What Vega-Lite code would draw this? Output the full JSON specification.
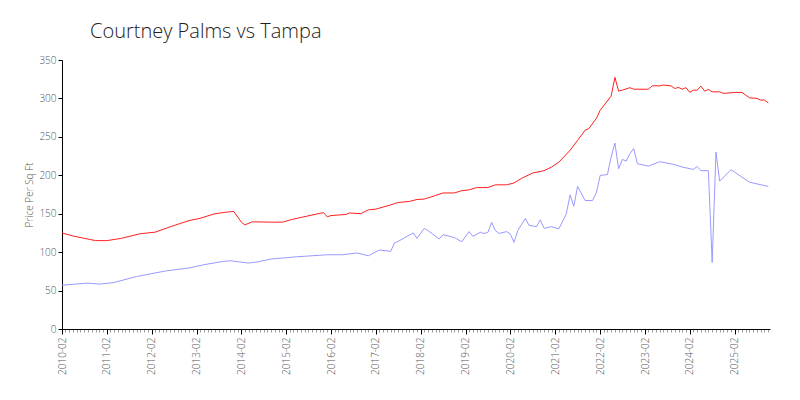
{
  "$schema": "https://vega.github.io/schema/vega-lite/v6.json",
  "width": 708,
  "height": 269,
  "autosize": {"type": "none"},
  "padding": {"left": 62, "top": 60, "right": 30, "bottom": 71},
  "background": "white",
  "title": {
    "text": "Courtney Palms vs Tampa",
    "anchor": "start",
    "frame": "group",
    "dx": 28,
    "offset": 13,
    "font": "Open Sans",
    "fontWeight": 300,
    "fontSize": 20,
    "color": "#222222"
  },
  "config": {
    "view": {"stroke": null},
    "axis": {
      "labelFont": "Open Sans",
      "labelFontWeight": 300,
      "titleFont": "Open Sans",
      "titleFontWeight": 300,
      "labelColor": "#555555",
      "titleColor": "#555555",
      "domainColor": "#000000",
      "tickColor": "#000000",
      "grid": false
    }
  },
  "data": {
    "values": [
      {"series": "Tampa", "date": "2010-02-01", "value": 125},
      {"series": "Tampa", "date": "2010-05-01", "value": 121},
      {"series": "Tampa", "date": "2010-11-01", "value": 115},
      {"series": "Tampa", "date": "2011-02-01", "value": 115},
      {"series": "Tampa", "date": "2011-06-01", "value": 118},
      {"series": "Tampa", "date": "2011-11-01", "value": 124},
      {"series": "Tampa", "date": "2012-03-01", "value": 126},
      {"series": "Tampa", "date": "2012-07-01", "value": 133},
      {"series": "Tampa", "date": "2012-12-01", "value": 141},
      {"series": "Tampa", "date": "2013-03-01", "value": 144},
      {"series": "Tampa", "date": "2013-07-01", "value": 150},
      {"series": "Tampa", "date": "2013-10-01", "value": 152},
      {"series": "Tampa", "date": "2013-12-01", "value": 153},
      {"series": "Tampa", "date": "2014-02-01", "value": 139},
      {"series": "Tampa", "date": "2014-03-01", "value": 135.5},
      {"series": "Tampa", "date": "2014-05-01", "value": 139.5},
      {"series": "Tampa", "date": "2014-10-01", "value": 139},
      {"series": "Tampa", "date": "2015-01-01", "value": 139},
      {"series": "Tampa", "date": "2015-04-01", "value": 143},
      {"series": "Tampa", "date": "2015-12-01", "value": 151.5},
      {"series": "Tampa", "date": "2016-01-01", "value": 146},
      {"series": "Tampa", "date": "2016-02-01", "value": 147.6},
      {"series": "Tampa", "date": "2016-06-01", "value": 149},
      {"series": "Tampa", "date": "2016-07-01", "value": 151},
      {"series": "Tampa", "date": "2016-10-01", "value": 150},
      {"series": "Tampa", "date": "2016-12-01", "value": 155},
      {"series": "Tampa", "date": "2017-02-01", "value": 156},
      {"series": "Tampa", "date": "2017-06-01", "value": 161.5},
      {"series": "Tampa", "date": "2017-08-01", "value": 164.6},
      {"series": "Tampa", "date": "2017-11-01", "value": 166},
      {"series": "Tampa", "date": "2018-01-01", "value": 168.5},
      {"series": "Tampa", "date": "2018-03-01", "value": 169},
      {"series": "Tampa", "date": "2018-06-01", "value": 173.7},
      {"series": "Tampa", "date": "2018-08-01", "value": 177},
      {"series": "Tampa", "date": "2018-11-01", "value": 177},
      {"series": "Tampa", "date": "2019-01-01", "value": 180},
      {"series": "Tampa", "date": "2019-03-01", "value": 181},
      {"series": "Tampa", "date": "2019-05-01", "value": 184},
      {"series": "Tampa", "date": "2019-08-01", "value": 184},
      {"series": "Tampa", "date": "2019-10-01", "value": 187.6},
      {"series": "Tampa", "date": "2020-01-01", "value": 187.6},
      {"series": "Tampa", "date": "2020-03-01", "value": 190},
      {"series": "Tampa", "date": "2020-05-01", "value": 196},
      {"series": "Tampa", "date": "2020-08-01", "value": 203},
      {"series": "Tampa", "date": "2020-11-01", "value": 206},
      {"series": "Tampa", "date": "2021-01-01", "value": 210.7},
      {"series": "Tampa", "date": "2021-03-01", "value": 217},
      {"series": "Tampa", "date": "2021-06-01", "value": 232.5},
      {"series": "Tampa", "date": "2021-08-01", "value": 245.5},
      {"series": "Tampa", "date": "2021-10-01", "value": 258.6},
      {"series": "Tampa", "date": "2021-11-01", "value": 260.8},
      {"series": "Tampa", "date": "2022-01-01", "value": 274},
      {"series": "Tampa", "date": "2022-02-01", "value": 284.7},
      {"series": "Tampa", "date": "2022-05-01", "value": 303},
      {"series": "Tampa", "date": "2022-06-01", "value": 327.4},
      {"series": "Tampa", "date": "2022-07-01", "value": 309.5},
      {"series": "Tampa", "date": "2022-08-01", "value": 310.8},
      {"series": "Tampa", "date": "2022-10-01", "value": 314},
      {"series": "Tampa", "date": "2022-11-01", "value": 312},
      {"series": "Tampa", "date": "2023-03-01", "value": 312},
      {"series": "Tampa", "date": "2023-04-01", "value": 316.4},
      {"series": "Tampa", "date": "2023-06-01", "value": 316.4},
      {"series": "Tampa", "date": "2023-07-01", "value": 317.4},
      {"series": "Tampa", "date": "2023-09-01", "value": 316.4},
      {"series": "Tampa", "date": "2023-10-01", "value": 313},
      {"series": "Tampa", "date": "2023-11-01", "value": 314.3},
      {"series": "Tampa", "date": "2023-12-01", "value": 312},
      {"series": "Tampa", "date": "2024-01-01", "value": 314},
      {"series": "Tampa", "date": "2024-02-01", "value": 307.8},
      {"series": "Tampa", "date": "2024-03-01", "value": 310.8},
      {"series": "Tampa", "date": "2024-04-01", "value": 310.8},
      {"series": "Tampa", "date": "2024-05-01", "value": 316},
      {"series": "Tampa", "date": "2024-06-01", "value": 309.5},
      {"series": "Tampa", "date": "2024-07-01", "value": 311.7},
      {"series": "Tampa", "date": "2024-08-01", "value": 308.6},
      {"series": "Tampa", "date": "2024-10-01", "value": 308.6},
      {"series": "Tampa", "date": "2024-11-01", "value": 306.5},
      {"series": "Tampa", "date": "2025-02-01", "value": 307.8},
      {"series": "Tampa", "date": "2025-04-01", "value": 307.8},
      {"series": "Tampa", "date": "2025-06-01", "value": 300.8},
      {"series": "Tampa", "date": "2025-08-01", "value": 300},
      {"series": "Tampa", "date": "2025-09-01", "value": 297.8},
      {"series": "Tampa", "date": "2025-10-01", "value": 297.8},
      {"series": "Tampa", "date": "2025-11-01", "value": 294.3},

      {"series": "Courtney Palms", "date": "2010-02-01", "value": 57},
      {"series": "Courtney Palms", "date": "2010-09-01", "value": 59.7},
      {"series": "Courtney Palms", "date": "2010-12-01", "value": 58.4},
      {"series": "Courtney Palms", "date": "2011-04-01", "value": 60.5},
      {"series": "Courtney Palms", "date": "2011-10-01", "value": 68.3},
      {"series": "Courtney Palms", "date": "2012-06-01", "value": 75.7},
      {"series": "Courtney Palms", "date": "2012-12-01", "value": 79.3},
      {"series": "Courtney Palms", "date": "2013-04-01", "value": 83.6},
      {"series": "Courtney Palms", "date": "2013-09-01", "value": 87.9},
      {"series": "Courtney Palms", "date": "2013-11-01", "value": 88.8},
      {"series": "Courtney Palms", "date": "2014-04-01", "value": 85.8},
      {"series": "Courtney Palms", "date": "2014-06-01", "value": 87},
      {"series": "Courtney Palms", "date": "2014-10-01", "value": 91},
      {"series": "Courtney Palms", "date": "2015-05-01", "value": 94},
      {"series": "Courtney Palms", "date": "2016-01-01", "value": 96.6},
      {"series": "Courtney Palms", "date": "2016-05-01", "value": 96.6},
      {"series": "Courtney Palms", "date": "2016-09-01", "value": 98.9},
      {"series": "Courtney Palms", "date": "2016-12-01", "value": 95.3},
      {"series": "Courtney Palms", "date": "2017-03-01", "value": 102.8},
      {"series": "Courtney Palms", "date": "2017-06-01", "value": 101},
      {"series": "Courtney Palms", "date": "2017-07-01", "value": 112},
      {"series": "Courtney Palms", "date": "2017-08-01", "value": 114},
      {"series": "Courtney Palms", "date": "2017-12-01", "value": 125},
      {"series": "Courtney Palms", "date": "2018-01-01", "value": 118},
      {"series": "Courtney Palms", "date": "2018-03-01", "value": 131},
      {"series": "Courtney Palms", "date": "2018-04-01", "value": 128},
      {"series": "Courtney Palms", "date": "2018-07-01", "value": 117},
      {"series": "Courtney Palms", "date": "2018-08-01", "value": 122.8},
      {"series": "Courtney Palms", "date": "2018-11-01", "value": 119},
      {"series": "Courtney Palms", "date": "2019-01-01", "value": 113.6},
      {"series": "Courtney Palms", "date": "2019-03-01", "value": 126.7},
      {"series": "Courtney Palms", "date": "2019-04-01", "value": 120.6},
      {"series": "Courtney Palms", "date": "2019-06-01", "value": 125.8},
      {"series": "Courtney Palms", "date": "2019-07-01", "value": 124.3},
      {"series": "Courtney Palms", "date": "2019-08-01", "value": 125.6},
      {"series": "Courtney Palms", "date": "2019-09-01", "value": 138.8},
      {"series": "Courtney Palms", "date": "2019-10-01", "value": 128},
      {"series": "Courtney Palms", "date": "2019-11-01", "value": 124.3},
      {"series": "Courtney Palms", "date": "2020-01-01", "value": 126.7},
      {"series": "Courtney Palms", "date": "2020-02-01", "value": 123.4},
      {"series": "Courtney Palms", "date": "2020-03-01", "value": 112.7},
      {"series": "Courtney Palms", "date": "2020-04-01", "value": 128},
      {"series": "Courtney Palms", "date": "2020-06-01", "value": 143.9},
      {"series": "Courtney Palms", "date": "2020-07-01", "value": 135},
      {"series": "Courtney Palms", "date": "2020-09-01", "value": 133.2},
      {"series": "Courtney Palms", "date": "2020-10-01", "value": 142},
      {"series": "Courtney Palms", "date": "2020-11-01", "value": 131},
      {"series": "Courtney Palms", "date": "2021-01-01", "value": 133.2},
      {"series": "Courtney Palms", "date": "2021-03-01", "value": 130.2},
      {"series": "Courtney Palms", "date": "2021-05-01", "value": 149.8},
      {"series": "Courtney Palms", "date": "2021-06-01", "value": 174.6},
      {"series": "Courtney Palms", "date": "2021-07-01", "value": 159.7},
      {"series": "Courtney Palms", "date": "2021-08-01", "value": 185.5},
      {"series": "Courtney Palms", "date": "2021-10-01", "value": 167.2},
      {"series": "Courtney Palms", "date": "2021-12-01", "value": 167.2},
      {"series": "Courtney Palms", "date": "2022-01-01", "value": 177.2},
      {"series": "Courtney Palms", "date": "2022-02-01", "value": 199.8},
      {"series": "Courtney Palms", "date": "2022-04-01", "value": 201},
      {"series": "Courtney Palms", "date": "2022-05-01", "value": 223.7},
      {"series": "Courtney Palms", "date": "2022-06-01", "value": 242},
      {"series": "Courtney Palms", "date": "2022-07-01", "value": 208.5},
      {"series": "Courtney Palms", "date": "2022-08-01", "value": 220.7},
      {"series": "Courtney Palms", "date": "2022-09-01", "value": 218.5},
      {"series": "Courtney Palms", "date": "2022-10-01", "value": 228},
      {"series": "Courtney Palms", "date": "2022-11-01", "value": 234.7},
      {"series": "Courtney Palms", "date": "2022-12-01", "value": 215},
      {"series": "Courtney Palms", "date": "2023-03-01", "value": 212},
      {"series": "Courtney Palms", "date": "2023-06-01", "value": 217.7},
      {"series": "Courtney Palms", "date": "2023-10-01", "value": 213.8},
      {"series": "Courtney Palms", "date": "2023-12-01", "value": 210.7},
      {"series": "Courtney Palms", "date": "2024-03-01", "value": 207.6},
      {"series": "Courtney Palms", "date": "2024-04-01", "value": 211.5},
      {"series": "Courtney Palms", "date": "2024-05-01", "value": 206},
      {"series": "Courtney Palms", "date": "2024-07-01", "value": 206},
      {"series": "Courtney Palms", "date": "2024-08-01", "value": 86.6},
      {"series": "Courtney Palms", "date": "2024-09-01", "value": 230.2},
      {"series": "Courtney Palms", "date": "2024-10-01", "value": 192.4},
      {"series": "Courtney Palms", "date": "2025-01-01", "value": 207.3},
      {"series": "Courtney Palms", "date": "2025-06-01", "value": 191},
      {"series": "Courtney Palms", "date": "2025-11-01", "value": 185.5}
    ]
  },
  "mark": {"type": "line", "strokeWidth": 1, "interpolate": "linear"},
  "encoding": {
    "x": {
      "field": "date",
      "type": "temporal",
      "scale": {"domain": ["2010-02-01", "2025-11-15"]},
      "axis": {
        "title": null,
        "tickCount": {"interval": "month", "step": 1},
        "labelExpr": "month(datum.value) == 1 ? timeFormat(datum.value, '%Y-%m') : ''",
        "labelAngle": -90,
        "labelOverlap": false,
        "labelFontSize": 10,
        "labelPadding": 3,
        "tickSize": {"condition": {"test": "month(datum.value) == 1", "value": 5}, "value": 3},
        "tickColor": {"condition": {"test": "month(datum.value) == 1", "value": "#000000"}, "value": "#999999"},
        "domainColor": "#000000",
        "domainWidth": 1
      }
    },
    "y": {
      "field": "value",
      "type": "quantitative",
      "scale": {"domain": [0, 350], "nice": false},
      "axis": {
        "title": "Price Per Sq Ft",
        "titleFontSize": 10,
        "titlePadding": 4,
        "values": [0, 50, 100, 150, 200, 250, 300, 350],
        "labelFontSize": 10,
        "tickSize": 4
      }
    },
    "color": {
      "field": "series",
      "type": "nominal",
      "scale": {"domain": ["Tampa", "Courtney Palms"], "range": ["#ff2020", "#9999ff"]},
      "legend": null
    }
  }
}
